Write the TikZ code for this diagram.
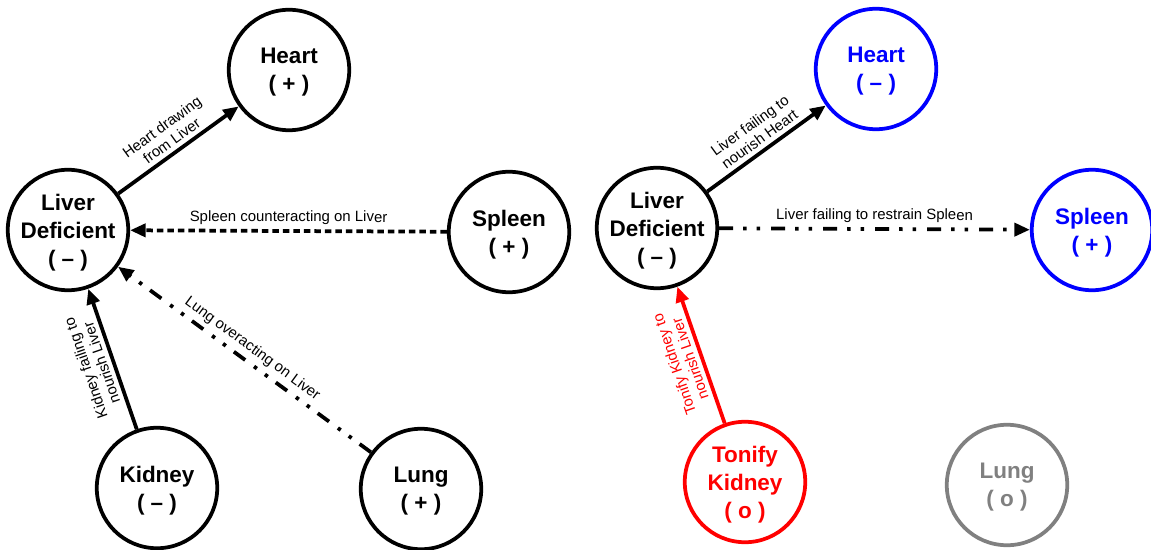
\documentclass[tikz,border=0pt]{standalone}
\usepackage{fontspec}
\setmainfont{Liberation Sans}
\usetikzlibrary{arrows.meta}

\begin{document}
\begin{tikzpicture}[x=0.02cm, y=-0.02cm,
        organ/.style={circle, draw, line width=0.075cm, minimum size=2.41cm, inner sep=0pt,
            align=center, text depth=0pt, font=\bfseries\fontsize{12.8}{16}\selectfont},
        link/.style={line width=0.075cm, -{Triangle[length=0.31cm,width=0.26cm]}},
        note/.style={font=\fontsize{8.5}{9.5}\selectfont, align=center, sloped, above, inner sep=2.5pt},
        dashdotdot/.style={dash pattern=on 0.28cm off 0.2cm on 0.07cm off 0.2cm on 0.07cm off 0.22cm},
    ]
    \useasboundingbox (0,0) rectangle (1151,550);

    % Left: liver deficient
    \node (liv) at (68,230) [organ] {Liver\\Deficient\\( – )};
    \node (hrt) at (289,70) [organ] {Heart\\( + )};
    \node (spl) at (509,232) [organ] {Spleen\\( + )};
    \node (kid) at (157,488) [organ] {Kidney\\( – )};
    \node (lun) at (421,489) [organ] {Lung\\( + )};

    \draw[link] (liv) -- node[note] {Heart drawing\\from Liver} (hrt);
    \draw[link, dash pattern=on 0.13cm off 0.08cm] (spl) -- node[note] {Spleen counteracting on Liver} (liv);
    \draw[link, dashdotdot] (lun) -- node[note] {Lung overacting on Liver} (liv);
    \draw[link] (kid) -- node[note, allow upside down] {Kidney failing to\\nourish Liver} (liv);

    % Right: treatment
    \node (liv2) at (657,228) [organ] {Liver\\Deficient\\( – )};
    \node (hrt2) at (876,69) [organ, blue] {Heart\\( – )};
    \node (spl2) at (1092,230) [organ, blue] {Spleen\\( + )};
    \node (kid2) at (745,482) [organ, red] {Tonify\\Kidney\\( o )};
    \node (lun2) at (1007,485) [organ, gray] {Lung\\( o )};

    \draw[link] (liv2) -- node[note] {Liver failing to\\nourish Heart} (hrt2);
    \draw[link, dashdotdot] (liv2) -- node[note] {Liver failing to restrain Spleen} (spl2);
    \draw[link, red] (kid2) -- node[note, allow upside down] {Tonify Kidney to\\nourish Liver} (liv2);
\end{tikzpicture}
\end{document}
